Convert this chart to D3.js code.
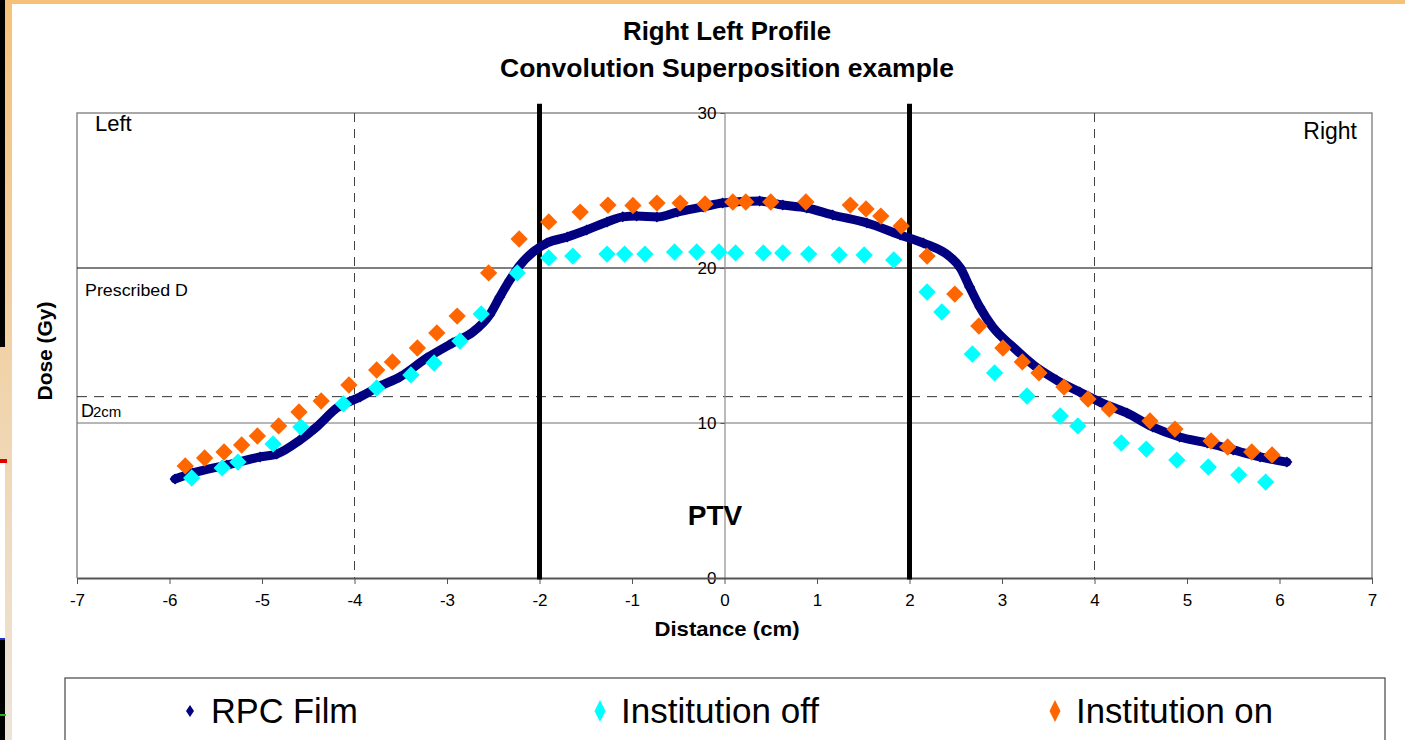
<!DOCTYPE html>
<html>
<head>
<meta charset="utf-8">
<script src="https://cdn.jsdelivr.net/npm/d3@7"></script>
<style>
  body { margin: 0; background: #fff; overflow: hidden; }
  text { font-family: "Liberation Sans", Arial, sans-serif; }
</style>
</head>
<body>
<div id="chart"></div>
<script>
// RPC film profile
var rpcX = [-5.94, -5.75, -5.38, -5.02, -4.84, -4.59, -4.41, -4.19, -3.94, -3.72, -3.51, -3.22, -2.94, -2.72, -2.54, -2.43, -2.32, -2.21, -2.07, -1.92, -1.70, -1.49, -1.27, -1.10, -0.95, -0.73, -0.51, -0.23, -0.02, 0.38, 0.63, 0.89, 1.17, 1.54, 1.90, 2.15, 2.44, 2.55, 2.65, 2.76, 2.90, 3.12, 3.34, 3.59, 3.84, 4.06, 4.35, 4.63, 4.92, 5.22, 5.50, 5.79, 6.08];
var rpcY = [6.39, 6.77, 7.29, 7.81, 8.0, 8.9, 9.74, 10.97, 11.68, 12.39, 12.97, 14.19, 15.16, 15.87, 16.97, 18.13, 19.23, 20.19, 21.03, 21.61, 22.0, 22.45, 22.97, 23.3, 23.35, 23.29, 23.61, 23.94, 24.19, 24.32, 24.06, 23.87, 23.42, 22.9, 22.13, 21.61, 20.71, 20.0, 18.77, 17.48, 16.19, 14.9, 13.74, 12.77, 12.0, 11.35, 10.65, 9.74, 9.1, 8.71, 8.26, 7.81, 7.48];

// Institution off
var offX = [-5.76, -5.43, -5.26, -4.88, -4.58, -4.12, -3.76, -3.39, -3.14, -2.86, -2.63, -2.24, -1.90, -1.64, -1.27, -1.08, -0.86, -0.54, -0.30, -0.06, 0.12, 0.42, 0.63, 0.91, 1.24, 1.51, 1.83, 2.19, 2.35, 2.68, 2.92, 3.27, 3.63, 3.82, 4.29, 4.56, 4.89, 5.23, 5.56, 5.85];
var offY = [6.45, 7.10, 7.48, 8.65, 9.74, 11.23, 12.26, 13.10, 13.87, 15.29, 17.03, 19.68, 20.65, 20.77, 20.90, 20.90, 20.90, 21.03, 21.03, 21.03, 20.97, 20.97, 20.97, 20.90, 20.84, 20.84, 20.52, 18.45, 17.16, 14.45, 13.23, 11.74, 10.45, 9.81, 8.71, 8.32, 7.61, 7.16, 6.65, 6.19];

// Institution on
var onX = [-5.83, -5.62, -5.41, -5.22, -5.05, -4.82, -4.60, -4.36, -4.06, -3.76, -3.59, -3.32, -3.11, -2.89, -2.55, -2.22, -1.90, -1.56, -1.26, -0.99, -0.73, -0.48, -0.21, 0.09, 0.23, 0.50, 0.88, 1.36, 1.53, 1.69, 1.91, 2.19, 2.49, 2.75, 3.01, 3.22, 3.40, 3.67, 3.93, 4.16, 4.60, 4.87, 5.26, 5.44, 5.70, 5.92];
var onY = [7.23, 7.74, 8.13, 8.58, 9.16, 9.81, 10.71, 11.42, 12.45, 13.42, 13.94, 14.84, 15.81, 16.90, 19.68, 21.87, 22.97, 23.61, 24.06, 24.03, 24.19, 24.19, 24.13, 24.26, 24.26, 24.26, 24.26, 24.06, 23.81, 23.35, 22.71, 20.77, 18.32, 16.26, 14.84, 13.94, 13.23, 12.32, 11.55, 10.9, 10.13, 9.61, 8.84, 8.45, 8.13, 7.94];

var xTicks = [-7, -6, -5, -4, -3, -2, -1, 0, 1, 2, 3, 4, 5, 6, 7];
var yTicks = [0, 10, 20, 30];
var ptvEdges = [-2, 2];
var dashedX = [-4, 4];
var prescribedDose = 20;
var d2cmDose = 11.7;

var seriesNames = ["RPC Film", "Institution off", "Institution on"];
var seriesColors = ["#000080", "#00ffff", "#ff6600"];

var W = 1405, H = 740;
var margin = {top: 113, right: 33, bottom: 162, left: 77};
var width = 1405 - margin.left - margin.right;
var height = 740 - margin.top - margin.bottom;

var svg = d3.select("#chart").append("svg")
    .attr("width", W)
    .attr("height", H);

// slide frame bits around the chart
var grad = svg.append("defs").append("linearGradient")
    .attr("id", "edge").attr("x1", 0).attr("y1", 0).attr("x2", 0).attr("y2", 1);
grad.append("stop").attr("offset", "0%").attr("stop-color", "#f6c27a");
grad.append("stop").attr("offset", "100%").attr("stop-color", "#ece4da");
svg.append("rect").attr("x", 0).attr("y", 0).attr("width", W).attr("height", 4).attr("fill", "#f6c27a");
svg.append("rect").attr("x", 0).attr("y", 0).attr("width", 12).attr("height", H).attr("fill", "url(#edge)");
svg.append("rect").attr("x", 0).attr("y", 0).attr("width", 5).attr("height", 347).attr("fill", "#000");
svg.append("rect").attr("x", 0).attr("y", 459).attr("width", 7).attr("height", 4).attr("fill", "#e00000");
svg.append("rect").attr("x", 0).attr("y", 463).attr("width", 5).attr("height", 175).attr("fill", "#fff");
svg.append("rect").attr("x", 0).attr("y", 638).attr("width", 5).attr("height", 2).attr("fill", "#2030d0");
svg.append("rect").attr("x", 0).attr("y", 640).attr("width", 5).attr("height", 100).attr("fill", "#000");
svg.append("rect").attr("x", 0).attr("y", 714).attr("width", 6).attr("height", 2).attr("fill", "#20b020");

var g = svg.append("g")
    .attr("transform", "translate(" + margin.left + "," + margin.top + ")");

var x = d3.scaleLinear().domain([-7, 7]).range([0, width]);
var y = d3.scaleLinear().domain([0, 30]).range([height, 0]);

// titles
svg.append("text")
    .attr("x", 727).attr("y", 40)
    .attr("text-anchor", "middle")
    .attr("font-size", "26px").attr("font-weight", "bold")
    .attr("textLength", 208).attr("lengthAdjust", "spacingAndGlyphs")
    .text("Right Left Profile");
svg.append("text")
    .attr("x", 727).attr("y", 77)
    .attr("text-anchor", "middle")
    .attr("font-size", "26px").attr("font-weight", "bold")
    .attr("textLength", 454).attr("lengthAdjust", "spacingAndGlyphs")
    .text("Convolution Superposition example");

// plot frame (left, top, right)
g.append("path")
    .attr("d", "M0," + height + "V0H" + width + "V" + height)
    .attr("fill", "none")
    .attr("stroke", "#8c8c8c")
    .attr("stroke-width", 1.5);

// horizontal gridlines
g.append("line")
    .attr("x1", 0).attr("x2", width)
    .attr("y1", y(prescribedDose)).attr("y2", y(prescribedDose))
    .attr("stroke", "#000").attr("stroke-width", 1);
g.append("line")
    .attr("x1", 0).attr("x2", width)
    .attr("y1", y(10)).attr("y2", y(10))
    .attr("stroke", "#6f6f6f").attr("stroke-width", 1);
g.append("line")
    .attr("x1", 0).attr("x2", width)
    .attr("y1", y(d2cmDose)).attr("y2", y(d2cmDose))
    .attr("stroke", "#333").attr("stroke-width", 1)
    .attr("stroke-dasharray", "10,7");

// dashed verticals
g.selectAll(".vdash").data(dashedX).enter().append("line")
    .attr("class", "vdash")
    .attr("x1", function(d) { return x(d); }).attr("x2", function(d) { return x(d); })
    .attr("y1", 0).attr("y2", height)
    .attr("stroke", "#444").attr("stroke-width", 1)
    .attr("stroke-dasharray", "9,7");

// y axis through x = 0
var yAxis = g.append("g")
    .attr("transform", "translate(" + x(0) + ",0)")
    .call(d3.axisLeft(y).tickValues(yTicks).tickSize(4).tickPadding(4)
      .tickFormat(function(d) { return String(d); }));
yAxis.select(".domain").attr("stroke", "#8c8c8c").attr("stroke-width", 1.2);
yAxis.selectAll(".tick line").attr("stroke", "#555");
yAxis.selectAll("text")
    .attr("font-family", "Liberation Sans, Arial, sans-serif")
    .attr("font-size", "17px").attr("fill", "#000");

// x axis
var xAxis = g.append("g")
    .attr("transform", "translate(0," + height + ")")
    .call(d3.axisBottom(x).tickValues(xTicks).tickSize(6).tickPadding(10).tickSizeOuter(0)
      .tickFormat(function(d) { return String(d); }));
xAxis.select(".domain").attr("stroke", "#555").attr("stroke-width", 2);
xAxis.selectAll(".tick line").attr("stroke", "#555").attr("stroke-width", 1);
xAxis.selectAll("text")
    .attr("font-family", "Liberation Sans, Arial, sans-serif")
    .attr("font-size", "17px").attr("fill", "#000");

// PTV edges
g.selectAll(".ptv").data(ptvEdges).enter().append("line")
    .attr("class", "ptv")
    .attr("x1", function(d) { return x(d); }).attr("x2", function(d) { return x(d); })
    .attr("y1", y(30.6)).attr("y2", y(-0.1))
    .attr("stroke", "#000").attr("stroke-width", 5);

// axis titles
svg.append("text")
    .attr("x", 727).attr("y", 636)
    .attr("text-anchor", "middle")
    .attr("font-size", "21px").attr("font-weight", "bold")
    .attr("textLength", 145).attr("lengthAdjust", "spacingAndGlyphs")
    .text("Distance (cm)");
svg.append("text")
    .attr("transform", "translate(52,351) rotate(-90)")
    .attr("text-anchor", "middle")
    .attr("font-size", "21px").attr("font-weight", "bold")
    .attr("textLength", 99).attr("lengthAdjust", "spacingAndGlyphs")
    .text("Dose (Gy)");

// annotations
svg.append("text").attr("x", 95).attr("y", 131).attr("font-size", "22px").text("Left");
svg.append("text").attr("x", 1357).attr("y", 139).attr("text-anchor", "end").attr("font-size", "23px").text("Right");
svg.append("text").attr("x", 85).attr("y", 296).attr("font-size", "17px")
    .attr("textLength", 103).attr("lengthAdjust", "spacingAndGlyphs").text("Prescribed D");
var d2 = svg.append("text").attr("x", 81).attr("y", 417).attr("font-size", "18px");
d2.append("tspan").text("D");
d2.append("tspan").attr("font-size", "15px").attr("dx", -1).text("2cm");
svg.append("text")
    .attr("x", 715).attr("y", 525)
    .attr("text-anchor", "middle")
    .attr("font-size", "28px").attr("font-weight", "bold")
    .text("PTV");

// RPC film: dense thick band
var rpc = rpcX.map(function(d, i) { return {x: d, y: rpcY[i]}; });
var line = d3.line()
    .x(function(d) { return x(d.x); })
    .y(function(d) { return y(d.y); })
    .curve(d3.curveMonotoneX);
g.append("path")
    .datum(rpc)
    .attr("d", line)
    .attr("fill", "none")
    .attr("stroke", seriesColors[0])
    .attr("stroke-width", 9)
    .attr("stroke-linecap", "round");
g.selectAll(".rpc").data(rpc).enter().append("path")
    .attr("class", "rpc")
    .attr("d", d3.symbol().type(d3.symbolSquare).size(60))
    .attr("transform", function(d) { return "translate(" + x(d.x) + "," + y(d.y) + ") rotate(45)"; })
    .attr("fill", seriesColors[0]);

// institution series
var off = offX.map(function(d, i) { return {x: d, y: offY[i]}; });
var on = onX.map(function(d, i) { return {x: d, y: onY[i]}; });
var diamond = d3.symbol().type(d3.symbolSquare).size(150);

g.selectAll(".off").data(off).enter().append("path")
    .attr("class", "off")
    .attr("d", diamond)
    .attr("transform", function(d) { return "translate(" + x(d.x) + "," + y(d.y) + ") rotate(45)"; })
    .attr("fill", seriesColors[1]);

g.selectAll(".on").data(on).enter().append("path")
    .attr("class", "on")
    .attr("d", diamond)
    .attr("transform", function(d) { return "translate(" + x(d.x) + "," + y(d.y) + ") rotate(45)"; })
    .attr("fill", seriesColors[2]);

// legend
svg.append("rect")
    .attr("x", 65).attr("y", 678)
    .attr("width", 1320).attr("height", 80)
    .attr("fill", "#fff")
    .attr("stroke", "#444").attr("stroke-width", 1.2);

var legendX = [190, 600, 1055];
var legendW = [8, 11, 11];
var legendH = [12, 22, 22];
var textLen = [147, 198, 197];
var leg = svg.selectAll(".leg").data(seriesNames).enter().append("g")
    .attr("class", "leg")
    .attr("transform", function(d, i) { return "translate(" + legendX[i] + ",711)"; });
leg.append("path")
    .attr("d", function(d, i) {
      var w = legendW[i] / 2, h = legendH[i] / 2;
      return "M0," + (-h) + "L" + w + ",0L0," + h + "L" + (-w) + ",0Z";
    })
    .attr("fill", function(d, i) { return seriesColors[i]; });
leg.append("text")
    .attr("x", 21).attr("y", 12)
    .attr("font-size", "35px")
    .attr("textLength", function(d, i) { return textLen[i]; })
    .attr("lengthAdjust", "spacingAndGlyphs")
    .text(function(d) { return d; });
</script>
</body>
</html>
